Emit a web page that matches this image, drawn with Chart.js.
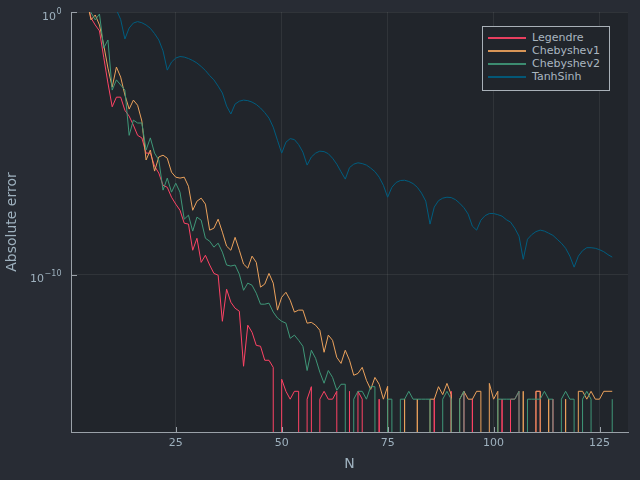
<!DOCTYPE html>
<html>
<head>
<meta charset="utf-8">
<script src="https://cdn.jsdelivr.net/npm/chart.js@4.4.1/dist/chart.umd.min.js"></script>
<style>
  html, body { margin: 0; padding: 0; background: #282c34; }
  #wrap { position: relative; width: 640px; height: 480px; overflow: hidden; }
  canvas { display: block; }
  #legend {
    position: absolute; left: 482px; top: 26px; width: 128px; height: 65px;
    box-sizing: border-box; border: 1px solid #a9b1b8; background: #21252b;
    font: 11px "DejaVu Sans", sans-serif; color: #aab6c0;
  }
  .row { position: absolute; left: 0; height: 14px; width: 126px; }
  .sample { position: absolute; left: 5px; top: 6px; width: 38px; height: 2px; opacity: 0.9; }
  .txt { position: absolute; left: 49px; top: 0; line-height: 14px; white-space: nowrap; }
</style>
</head>
<body>
<div id="wrap">
  <canvas id="c" width="640" height="480"></canvas>
  <div id="legend"></div>
</div>
<script>
// ---------- data ----------
const N = [
  4, 5, 6, 7, 8, 9, 10, 11, 12, 13,
  14, 15, 16, 17, 18, 19, 20, 21, 22, 23,
  24, 25, 26, 27, 28, 29, 30, 31, 32, 33,
  34, 35, 36, 37, 38, 39, 40, 41, 42, 43,
  44, 45, 46, 47, 48, 49, 50, 51, 52, 53,
  54, 55, 56, 57, 58, 59, 60, 61, 62, 63,
  64, 65, 66, 67, 68, 69, 70, 71, 72, 73,
  74, 75, 76, 77, 78, 79, 80, 81, 82, 83,
  84, 85, 86, 87, 88, 89, 90, 91, 92, 93,
  94, 95, 96, 97, 98, 99, 100, 101, 102, 103,
  104, 105, 106, 107, 108, 109, 110, 111, 112, 113,
  114, 115, 116, 117, 118, 119, 120, 121, 122, 123,
  124, 125, 126, 127, 128
];

const legendre = [
  3, 0.59, 0.32, 0.19, 0.019, 1.96e-3, 2.45e-4, 5.7e-4, 5.7e-4, 1.8e-4,
  1.08e-4, 4.9e-5, 2.0e-5, 1.6e-5, 4.2e-6, 4.2e-6, 1.35e-6, 7.3e-7, 2.5e-7, 2.1e-7,
  8.8e-8, 4.8e-8, 2.8e-8, 9.0e-9, 8.3e-9, 8.4e-10, 2.4e-9, 2.9e-10, 5.4e-10, 2.3e-10,
  1.1e-10, 9.4e-11, 1.65e-12, 2.75e-11, 8.8e-12, 5.2e-12, 4.0e-12, 3.2e-14, 1.17e-12, 6.3e-13,
  2.0e-13, 1.85e-13, 5.4e-14, 5.4e-14, 2.9e-14, 0, 1.02e-14, 3.55e-15, 1.78e-15, 3.55e-15,
  3.55e-15, 0, 1.78e-15, 5.33e-15, 0, 1.78e-15, 3.55e-15, 1.78e-15, 1.78e-15, 3.55e-15,
  0, 0, 3.55e-15, 0, 3.55e-15, 1.78e-15, 0, 0, 0, 1.78e-15,
  0, 0, 0, 0, 0, 0, 0, 0, 0, 0,
  0, 0, 1.78e-15, 0, 0, 0, 3.55e-15, 0, 0, 3.55e-15,
  0, 1.78e-15, 0, 0, 0, 0, 0, 0, 1.78e-15, 0,
  1.78e-15, 1.78e-15, 3.55e-15, 0, 0, 0, 3.55e-15, 3.55e-15, 0, 0,
  1.78e-15, 0, 0, 0, 0, 0, 0, 0, 0, 0,
  0, 0, 0, 0, 0
];

const chebyshev1 = [
  3, 0.50, 0.77, 0.32, 0.055, 7.3e-3, 1.38e-3, 8.0e-3, 3.3e-3, 6.9e-4,
  2.0e-4, 4.4e-4, 2.8e-4, 7.0e-5, 2.3e-6, 5.5e-6, 8.7e-7, 3.0e-6, 3.5e-6, 2.7e-6,
  7.9e-7, 5.1e-7, 4.7e-7, 5.1e-7, 2.3e-7, 2.8e-8, 6.2e-8, 8.1e-8, 4.8e-8, 4.9e-9,
  5.8e-9, 1.28e-8, 4.1e-9, 1.2e-9, 8.4e-10, 2.6e-9, 8.4e-10, 2.5e-10, 1.74e-10, 5.0e-10,
  2.9e-10, 3.3e-11, 4.3e-11, 1.1e-10, 4.7e-11, 4.4e-12, 1.36e-11, 2.1e-11, 1.05e-11, 3.7e-12,
  4.4e-12, 4.4e-12, 1.4e-12, 1.5e-12, 1.17e-12, 7.5e-13, 1.09e-13, 4.9e-13, 3.1e-13, 7.0e-14,
  4.1e-14, 1.3e-13, 5.4e-14, 1.45e-14, 1.7e-14, 2.9e-14, 9.3e-15, 4.2e-15, 1.2e-14, 6.6e-15,
  1.78e-15, 5.5e-15, 0, 0, 0, 1.78e-15, 0, 0, 1.78e-15, 0,
  0, 1.78e-15, 1.78e-15, 5.33e-15, 2.66e-15, 7.11e-15, 2.66e-15, 0, 1.78e-15, 3.55e-15,
  1.78e-15, 1.78e-15, 3.55e-15, 3.55e-15, 0, 7.11e-15, 1.78e-15, 3.55e-15, 0, 0,
  0, 0, 0, 3.55e-15, 0, 0, 3.55e-15, 3.55e-15, 0, 1.78e-15,
  0, 0, 0, 1.78e-15, 0, 0, 3.55e-15, 3.55e-15, 1.78e-15, 3.55e-15,
  1.78e-15, 1.78e-15, 3.55e-15, 3.55e-15, 3.55e-15
];

const chebyshev2 = [
  3, 0.95, 0.50, 0.84, 0.042, 0.086, 1.06e-3, 2.6e-3, 1.65e-3, 1.06e-3,
  2.0e-5, 7.6e-5, 5.9e-5, 5.9e-5, 5.5e-6, 1.6e-5, 4.2e-6, 2.3e-6, 1.64e-7, 4.7e-7,
  1.37e-7, 3.0e-7, 1.37e-7, 1.28e-8, 1.82e-8, 4.5e-9, 1.53e-8, 1.17e-8, 2.4e-9, 1.86e-9,
  1.1e-9, 1.56e-9, 7.1e-10, 2.3e-10, 2.1e-10, 2.3e-10, 1.03e-10, 2.5e-11, 4.7e-11, 3.9e-11,
  1.94e-11, 7.4e-12, 7.4e-12, 8.1e-12, 3.7e-12, 2.2e-12, 1.65e-12, 1.4e-12, 3.7e-13, 4.9e-13,
  3.1e-13, 1.85e-13, 2.2e-14, 1.3e-13, 6.4e-14, 1.9e-14, 7.2e-15, 2.2e-14, 1.2e-14, 3.9e-15,
  6.6e-15, 6.6e-15, 0, 1.78e-15, 3.55e-15, 3.55e-15, 1.78e-15, 5.33e-15, 5.33e-15, 0,
  0, 1.78e-15, 1.78e-15, 0, 1.78e-15, 1.78e-15, 3.55e-15, 1.78e-15, 1.78e-15, 1.78e-15,
  1.78e-15, 1.78e-15, 0, 0, 1.78e-15, 3.55e-15, 1.78e-15, 0, 1.78e-15, 3.55e-15,
  0, 0, 0, 0, 0, 0, 0, 1.78e-15, 1.78e-15, 1.78e-15,
  1.78e-15, 1.78e-15, 3.55e-15, 0, 1.78e-15, 1.78e-15, 1.78e-15, 1.78e-15, 3.55e-15, 1.78e-15,
  1.78e-15, 0, 1.78e-15, 3.55e-15, 1.78e-15, 1.78e-15, 0, 1.78e-15, 3.55e-15, 1.78e-15,
  0, 0, 0, 0, 1.78e-15
];

const tanhSinh = [
  null, null, null, null, null, null, null, 1.2, 0.52, 0.094,
  0.245, 0.38, 0.43, 0.39, 0.32, 0.24, 0.15, 0.086, 0.033, 6.1e-3,
  0.0124, 0.0176, 0.0201, 0.0192, 0.0169, 0.0142, 0.0114, 8.4e-3, 5.9e-3, 3.8e-3,
  2.6e-3, 1.5e-3, 8.2e-4, 2.6e-4, 1.3e-4, 3.1e-4, 4.0e-4, 4.4e-4, 4.2e-4, 3.7e-4,
  3.0e-4, 2.2e-4, 1.47e-4, 9.1e-5, 4.1e-5, 1.3e-5, 4.2e-6, 1.1e-5, 1.5e-5, 1.38e-5,
  8.9e-6, 4.6e-6, 1.47e-6, 3.0e-6, 4.2e-6, 5.0e-6, 4.8e-6, 4.0e-6, 2.7e-6, 1.6e-6,
  8.2e-7, 4.3e-7, 1.18e-6, 1.6e-6, 1.8e-6, 1.68e-6, 1.47e-6, 1.13e-6, 8.3e-7, 5.1e-7,
  2.5e-7, 8.8e-8, 2.1e-7, 3.2e-7, 3.8e-7, 3.9e-7, 3.5e-7, 2.9e-7, 2.1e-7, 1.26e-7,
  6.2e-8, 8.3e-9, 3.7e-8, 6.5e-8, 8.1e-8, 8.8e-8, 8.5e-8, 7.1e-8, 5.2e-8, 3.5e-8,
  2.0e-8, 6.9e-9, 4.9e-9, 1.17e-8, 1.75e-8, 2.1e-8, 2.1e-8, 1.9e-8, 1.67e-8, 1.23e-8,
  9.9e-9, 5.8e-9, 2.9e-9, 3.8e-10, 2.2e-9, 3.3e-9, 4.3e-9, 4.9e-9, 4.5e-9, 3.75e-9,
  3.1e-9, 2.2e-9, 1.56e-9, 1.0e-9, 5.0e-10, 1.9e-10, 5.0e-10, 8.1e-10, 1.05e-9, 1.05e-9,
  1.0e-9, 8.8e-10, 7.4e-10, 5.7e-10, 4.6e-10
];

const seriesNames = ["Legendre", "Chebyshev1", "Chebyshev2", "TanhSinh"];
const seriesValues = [legendre, chebyshev1, chebyshev2, tanhSinh];
const seriesColors = ["#fe4365", "#eca25c", "#3f9778", "#005d7f"];

const xTickValues = [25, 50, 75, 100, 125];
const yTickValues = [1, 1e-10];
const yTickBase = ["10", "10"];
const yTickExponent = ["0", "\u221210"];

// ---------- styling ----------
// An exact zero error cannot be placed on a log axis; like the original plot,
// such points plunge straight out through the bottom of the axis.
const ZERO_ON_LOG_AXIS = 1e-300;
const FONT = '"DejaVu Sans", sans-serif';
const TEXT = '#9eb1be';
const AXIS = '#9aa1a8';
const GRID = 'rgba(255,255,255,0.07)';

const datasets = seriesNames.map((name, k) => ({
  label: name,
  data: N.map((n, i) => ({ x: n, y: seriesValues[k][i] === 0 ? ZERO_ON_LOG_AXIS : seriesValues[k][i] })),
  borderColor: seriesColors[k],
  backgroundColor: seriesColors[k],
  borderWidth: 1,
  pointRadius: 0,
  tension: 0,
  fill: false,
  spanGaps: false,
  order: seriesNames.length - k
}));

const bgPlugin = {
  id: 'bg',
  beforeDraw(chart) {
    const { ctx, chartArea: a } = chart;
    ctx.save();
    ctx.fillStyle = '#282c34';
    ctx.fillRect(0, 0, chart.width, chart.height);
    ctx.fillStyle = '#21252b';
    ctx.fillRect(a.left, a.top, a.right - a.left, a.bottom - a.top);
    ctx.restore();
  }
};

const innerTicks = {
  id: 'innerTicks',
  afterDraw(chart) {
    const { ctx, chartArea: a, scales } = chart;
    ctx.save();
    ctx.strokeStyle = AXIS;
    ctx.lineWidth = 1;
    ctx.beginPath();
    scales.x.ticks.forEach(t => {
      const px = Math.round(scales.x.getPixelForValue(t.value)) + 0.5;
      ctx.moveTo(px, a.bottom);
      ctx.lineTo(px, a.bottom - 5);
    });
    scales.y.ticks.forEach(t => {
      const py = Math.round(scales.y.getPixelForValue(t.value)) + 0.5;
      ctx.moveTo(a.left, py);
      ctx.lineTo(a.left + 6, py);
    });
    ctx.stroke();
    // power-of-ten tick labels with a raised, smaller exponent
    ctx.fillStyle = TEXT;
    ctx.textAlign = 'right';
    ctx.textBaseline = 'alphabetic';
    yTickValues.forEach((v, i) => {
      const py = scales.y.getPixelForValue(v);
      const xr = a.left - 9.5;
      ctx.font = '8px ' + FONT;
      const ew = ctx.measureText(yTickExponent[i]).width;
      ctx.fillText(yTickExponent[i], xr, py + 1.5);
      ctx.font = '11px ' + FONT;
      ctx.fillText(yTickBase[i], xr - ew - 0.5, py + 7.5);
    });
    ctx.restore();
  }
};

new Chart(document.getElementById('c'), {
  type: 'line',
  data: { datasets },
  options: {
    responsive: false,
    animation: false,
    devicePixelRatio: 1,
    layout: { padding: { left: 4, top: 12, right: 12, bottom: 7 } },
    plugins: { legend: { display: false }, tooltip: { enabled: false } },
    scales: {
      x: {
        type: 'linear',
        min: 0.28,
        max: 131.72,
        afterFit(s) { s.height = 41; },
        afterBuildTicks(s) { s.ticks = xTickValues.map(v => ({ value: v })); },
        grid: { color: GRID, drawTicks: false },
        border: { color: AXIS, width: 1 },
        ticks: { color: TEXT, font: { family: FONT, size: 11 }, padding: 5, maxRotation: 0, autoSkip: false },
        title: { display: true, text: 'N', color: TEXT, font: { family: FONT, size: 14 }, padding: 0 }
      },
      y: {
        type: 'logarithmic',
        min: 1e-16,
        max: 1,
        afterFit(s) { s.width = 67; },
        afterBuildTicks(s) { s.ticks = yTickValues.map(v => ({ value: v })); },
        grid: { color: GRID, drawTicks: false },
        border: { color: AXIS, width: 1 },
        ticks: { display: false },
        title: { display: true, text: 'Absolute error', color: TEXT, font: { family: FONT, size: 14 }, padding: 0 }
      }
    }
  },
  plugins: [bgPlugin, innerTicks]
});

// ---------- legend (built from the series) ----------
const legend = document.getElementById('legend');
seriesNames.forEach((name, k) => {
  const row = document.createElement('div');
  row.className = 'row';
  row.style.top = (4 + 13 * k) + 'px';
  const sample = document.createElement('span');
  sample.className = 'sample';
  sample.style.background = seriesColors[k];
  const txt = document.createElement('span');
  txt.className = 'txt';
  txt.textContent = name;
  row.appendChild(sample);
  row.appendChild(txt);
  legend.appendChild(row);
});
</script>
</body>
</html>
